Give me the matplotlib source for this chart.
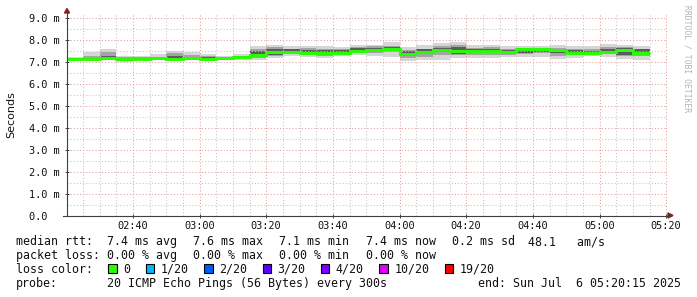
import numpy as np
import matplotlib
matplotlib.use('Agg')
import matplotlib.pyplot as plt
from matplotlib.ticker import MultipleLocator, FuncFormatter
from matplotlib.lines import Line2D
from matplotlib.patches import Polygon, Rectangle

# 5-minute bins starting at 02:20, values in ms
bin_start = 2 * 3600 + 20 * 60
bin_step = 300

rtt_median = [7.15, 7.15, 7.19, 7.15, 7.16, 7.17, 7.16, 7.17, 7.16, 7.17, 7.24, 7.33,
              7.45, 7.48, 7.41, 7.41, 7.43, 7.51, 7.54, 7.60, 7.39, 7.48, 7.57, 7.50,
              7.51, 7.51, 7.45, 7.59, 7.62, 7.56, 7.41, 7.41, 7.48, 7.57, 7.43]
rtt_max = [7.24, 7.48, 7.60, 7.27, 7.27, 7.37, 7.53, 7.45, 7.36, 7.30, 7.36, 7.74,
           7.79, 7.72, 7.74, 7.73, 7.71, 7.78, 7.80, 7.90, 7.68, 7.78, 7.86, 7.92,
           7.80, 7.80, 7.72, 7.75, 7.75, 7.78, 7.72, 7.75, 7.82, 7.80, 7.72]
rtt_min = [7.08, 7.06, 7.08, 7.01, 7.10, 7.12, 7.10, 7.10, 7.12, 7.12, 7.10, 7.09,
           7.18, 7.28, 7.24, 7.18, 7.27, 7.32, 7.28, 7.25, 7.05, 7.10, 7.10, 7.18,
           7.21, 7.21, 7.24, 7.25, 7.25, 7.15, 7.21, 7.30, 7.25, 7.15, 7.10]
rtt_hi = [7.21, 7.30, 7.45, 7.22, 7.22, 7.25, 7.40, 7.32, 7.27, 7.22, 7.30, 7.62,
          7.68, 7.62, 7.64, 7.60, 7.60, 7.70, 7.72, 7.76, 7.55, 7.62, 7.72, 7.78,
          7.66, 7.68, 7.60, 7.66, 7.66, 7.64, 7.60, 7.58, 7.68, 7.70, 7.62]
rtt_lo = [7.12, 7.12, 7.14, 7.05, 7.12, 7.15, 7.14, 7.15, 7.16, 7.15, 7.18, 7.18,
          7.30, 7.38, 7.32, 7.28, 7.36, 7.42, 7.42, 7.45, 7.20, 7.25, 7.35, 7.32,
          7.35, 7.35, 7.34, 7.38, 7.42, 7.30, 7.32, 7.34, 7.36, 7.30, 7.26]
rtt_dark_hi = [7.19, 7.20, 7.30, 7.18, 7.19, 7.20, 7.27, 7.22, 7.23, 7.20, 7.28, 7.50,
               7.60, 7.58, 7.57, 7.54, 7.55, 7.64, 7.66, 7.69, 7.50, 7.58, 7.67, 7.70,
               7.61, 7.61, 7.55, 7.64, 7.66, 7.62, 7.54, 7.52, 7.61, 7.66, 7.58]
rtt_dark_lo = [7.15, 7.14, 7.17, 7.06, 7.12, 7.16, 7.16, 7.16, 7.17, 7.16, 7.19, 7.22,
               7.35, 7.42, 7.35, 7.33, 7.38, 7.45, 7.46, 7.51, 7.29, 7.36, 7.45, 7.39,
               7.43, 7.40, 7.38, 7.43, 7.48, 7.40, 7.36, 7.37, 7.38, 7.35, 7.32]

loss_labels = ['0', '1/20', '2/20', '3/20', '4/20', '10/20', '19/20']
loss_colors = ['#26ff00', '#00b8ff', '#0059ff', '#5e00ff', '#7e00ff', '#dd00ff', '#ff0000']

W, H = 697, 297
def fx(px):
    return px / W
def fy(py):
    return 1 - py / H

fig = plt.figure(figsize=(W / 100, H / 100), dpi=100)
ax = fig.add_axes([fx(67), fy(215.5), 600 / W, 201.5 / H])

edges = bin_start + bin_step * np.arange(len(rtt_median) + 1)

# smoke bands, lightest outside, darkest near the median
ax.stairs(rtt_max, edges, baseline=rtt_min, fill=True, color='#d6d6d6', lw=0, zorder=1)
ax.stairs(rtt_hi, edges, baseline=rtt_lo, fill=True, color='#a4a4a4', lw=0, zorder=1.1)
ax.stairs(rtt_dark_hi, edges, baseline=rtt_dark_lo, fill=True, color='#5c5c5c', lw=0, zorder=1.2)
ax.stairs(rtt_median, edges, baseline=None, color='#26ff00', linewidth=2.1, zorder=3)

ax.set_xlim(2 * 3600 + 20 * 60 + 15, 5 * 3600 + 20 * 60 + 15)
ax.set_ylim(0, 9.2)

ax.xaxis.set_major_locator(MultipleLocator(1200))
ax.xaxis.set_minor_locator(MultipleLocator(300))
ax.xaxis.set_major_formatter(FuncFormatter(
    lambda s, p: f"{int(s // 3600):02d}:{int(s % 3600 // 60):02d}"))
ax.yaxis.set_major_locator(MultipleLocator(1))
ax.yaxis.set_minor_locator(MultipleLocator(0.5))
ax.yaxis.set_major_formatter(FuncFormatter(
    lambda v, p: "0.0  " if abs(v) < 1e-9 else f"{v:.1f} m"))

ax.set_axisbelow(False)
ax.grid(which='major', color='#e49c9c', linestyle=(0, (1, 2)), linewidth=0.75)
ax.grid(which='minor', color='#c4c4c4', linestyle=(0, (1, 2)), linewidth=0.75)

ax.tick_params(which='major', direction='inout', length=3, width=0.7, color='#404040',
               labelsize=7.4, labelfontfamily='DejaVu Sans Mono', labelcolor='#111111')
ax.tick_params(axis='y', which='major', pad=3.5)
ax.tick_params(axis='x', which='major', pad=2.5)
ax.tick_params(which='minor', length=0)
for s in ax.spines.values():
    s.set_visible(False)

# axis lines with arrows
fig.add_artist(Line2D([fx(67), fx(67)], [fy(215.5), fy(10)], color='#404040', lw=0.8))
fig.add_artist(Line2D([fx(63), fx(670)], [fy(215.5), fy(215.5)], color='#404040', lw=0.8))
fig.add_artist(Polygon([[fx(64.5), fy(13)], [fx(69.5), fy(13)], [fx(67), fy(8.5)]],
                       closed=True, color='#8b1c1c', transform=fig.transFigure))
fig.add_artist(Polygon([[fx(668), fy(213)], [fx(668), fy(218)], [fx(673), fy(215.5)]],
                       closed=True, color='#8b1c1c', transform=fig.transFigure))

fig.text(fx(11), fy(115), 'Seconds', rotation=90, ha='center', va='center',
         fontsize=8, family='DejaVu Sans', color='#111111')
fig.text(fx(687), fy(5), 'RRDTOOL / TOBI OETIKER', rotation=270, ha='center', va='top',
         fontsize=5.8, family='DejaVu Sans Mono', color='#b4b4b4')

mono = dict(family='DejaVu Sans Mono', fontsize=8.4, color='#111111', va='baseline')

line1 = [(16, 'median rtt:'), (107.3, '7.4 ms avg'), (193.3, '7.6 ms max'),
         (279.3, '7.1 ms min'), (365.7, '7.4 ms now'), (451.7, '0.2 ms sd'),
         (528, '48.1   am/s')]
for x, t in line1:
    fig.text(fx(x), fy(245.3), t, **mono)

line2 = [(16, 'packet loss:'), (107.3, '0.00 % avg'), (193.3, '0.00 % max'),
         (279.3, '0.00 % min'), (365.7, '0.00 % now')]
for x, t in line2:
    fig.text(fx(x), fy(259.3), t, **mono)

fig.text(fx(16), fy(273), 'loss color:', **mono)
bx = 108.3
for lab, col in zip(loss_labels, loss_colors):
    fig.add_artist(Rectangle((fx(bx), fy(273)), 8.5 / W, 9 / H, facecolor=col,
                             edgecolor='black', linewidth=0.8, transform=fig.transFigure))
    fig.text(fx(bx + 15), fy(273), lab, **mono)
    bx = bx + 15 + len(lab) * 7 + 15.4

fig.text(fx(16), fy(287), 'probe:', **mono)
fig.text(fx(107.3), fy(287), '20 ICMP Echo Pings (56 Bytes) every 300s', **mono)
fig.text(fx(681), fy(287), 'end: Sun Jul  6 05:20:15 2025', ha='right', **mono)

fig.savefig('out.png', dpi=100)
